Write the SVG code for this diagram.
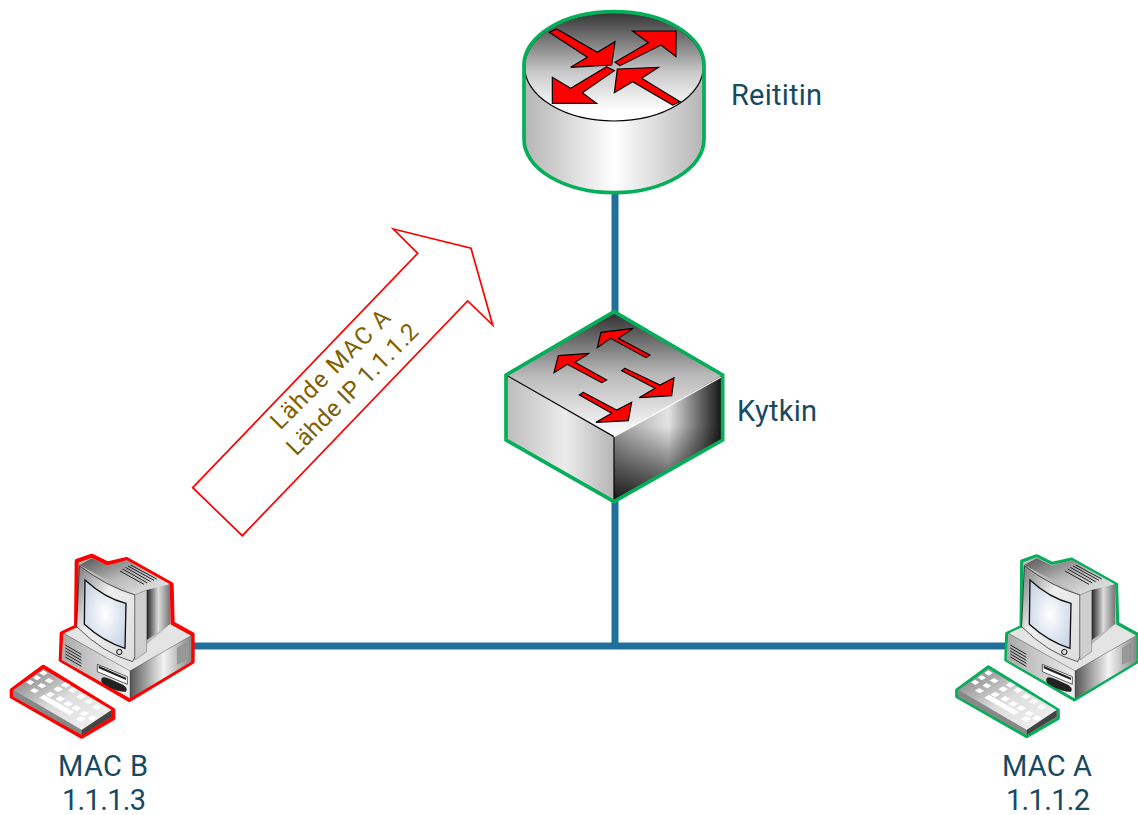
<svg xmlns="http://www.w3.org/2000/svg" width="1138" height="815" viewBox="0 0 1138 815">
<style>
.lbl{font-family:Roboto,"Liberation Sans",sans-serif;font-size:29px;font-weight:400;fill:#174a62}
.mid{text-anchor:middle}
.note{font-family:Roboto,"Liberation Sans",sans-serif;font-size:24px;font-weight:400;fill:#7f6000;text-anchor:middle}
.link{stroke:#21709c;stroke-width:7;fill:none}
.ra{fill:#f00;stroke:#000;stroke-width:3.500;stroke-linejoin:miter}
.key{fill:#fff}
.grn{fill:none;stroke:#05ae58;stroke-width:11}
</style>
<defs>
<linearGradient id="rt" x1="0" y1="0" x2="0" y2="1"><stop offset="0" stop-color="#333"/><stop offset=".55" stop-color="#c8c8c8"/><stop offset=".9" stop-color="#fff"/></linearGradient>
<linearGradient id="rs" x1="0" y1="0" x2="1" y2="0"><stop offset="0" stop-color="#b4b4b4"/><stop offset=".5" stop-color="#fff"/><stop offset="1" stop-color="#b4b4b4"/></linearGradient>
<linearGradient id="st" x1="0" y1="0" x2="0" y2="1"><stop offset="0" stop-color="#2e2e2e"/><stop offset=".5" stop-color="#b8b8b8"/><stop offset="1" stop-color="#fff"/></linearGradient>
<linearGradient id="sl" x1="0" y1="0" x2="1" y2="0"><stop offset="0" stop-color="#bbb"/><stop offset=".55" stop-color="#ececec"/><stop offset="1" stop-color="#b5b5b5"/></linearGradient>
<linearGradient id="sr" x1="0" y1="0" x2="1" y2="0"><stop offset="0" stop-color="#999"/><stop offset=".5" stop-color="#e4e4e4"/><stop offset=".75" stop-color="#777"/><stop offset="1" stop-color="#111"/></linearGradient>
<linearGradient id="srd" x1="0" y1="0" x2="0" y2="1"><stop offset=".4" stop-color="#000" stop-opacity="0"/><stop offset="1" stop-color="#000" stop-opacity=".85"/></linearGradient>
<linearGradient id="pm" x1="0" y1="0" x2="1" y2="1"><stop offset="0" stop-color="#777"/><stop offset=".4" stop-color="#eee"/><stop offset="1" stop-color="#ddd"/></linearGradient>
<linearGradient id="pt" x1="0" y1="0" x2="1" y2="1"><stop offset="0" stop-color="#555"/><stop offset=".5" stop-color="#bbb"/><stop offset="1" stop-color="#eee"/></linearGradient>
<linearGradient id="ps" x1="0" y1="0" x2="1" y2="0"><stop offset="0" stop-color="#222"/><stop offset=".5" stop-color="#ddd"/><stop offset="1" stop-color="#777"/></linearGradient>
<linearGradient id="pb" x1="0" y1="0" x2="1" y2="0"><stop offset="0" stop-color="#555"/><stop offset=".55" stop-color="#f4f4f4"/><stop offset="1" stop-color="#888"/></linearGradient>
<linearGradient id="pf" x1="0" y1="0" x2="1" y2="0"><stop offset="0" stop-color="#aaa"/><stop offset="1" stop-color="#eee"/></linearGradient>
<radialGradient id="scr" cx=".5" cy=".5" r=".6"><stop offset="0" stop-color="#fff"/><stop offset="1" stop-color="#c8d4e6"/></radialGradient>
<linearGradient id="kb" x1="0" y1="0" x2="1" y2="1"><stop offset="0" stop-color="#777"/><stop offset=".5" stop-color="#ddd"/><stop offset="1" stop-color="#f4f4f4"/></linearGradient>
<path id="body" d="M230 48L275 32L322 55L380 42L515 118L518 235L578 268L578 350L388 465L182 345L185 265L228 245Z"/>
<path id="keys" d="M35 435L130 365L340 495V520L245 575L35 455Z"/>
<g id="pc">
<path d="M238 60L275 40L322 62L380 45L510 118L440 135L405 150Z" fill="url(#pt)"/>
<path d="M440 135L510 118L510 238L440 285Z" fill="url(#ps)"/>
<path d="M192 265L228 248L438 300L510 238L572 272L390 378Z" fill="#e4e4e4"/>
<path d="M190 265L390 378L390 460L185 345Z" fill="url(#pf)"/>
<path d="M390 378L574 272L574 350L390 460Z" fill="url(#pb)"/>
<path d="M190 265L390 378L574 272" fill="none" stroke="#222" stroke-width="1"/>
<path d="M390 378V460" stroke="#222" stroke-width="1"/>
<path d="M238 62Q320 125 405 150L405 335L398 350Q310 325 230 245Z" fill="url(#pm)" stroke="#111" stroke-width="2"/>
<path d="M405 150L440 135V320L405 345Z" fill="#cfcfcf" stroke="#333" stroke-width="1"/>
<path d="M255 105Q315 160 378 175L375 310Q310 290 253 238Z" fill="url(#scr)" stroke="#111" stroke-width="4"/>
<circle cx="358" cy="321" r="8" fill="#ddd" stroke="#111" stroke-width="3"/>
<g stroke="#222" stroke-width="3"><path d="M360 78L432 118M368 72L442 114M376 67L452 110M384 63L462 106M392 60L470 102"/></g>
<g stroke="#222" stroke-width="3"><path d="M196 300L244 328M196 309L244 337M196 318L244 346M196 327L244 355M196 336L244 364"/></g>
<path d="M292 358L382 395V418L292 380Z" fill="#fff" stroke="#111" stroke-width="2"/>
<path d="M296 362L378 398V405L296 370Z" fill="#222"/>
<path d="M305 400Q310 392 330 402L370 420Q385 430 378 440Q360 442 330 428L312 418Q300 410 305 400Z" fill="#222"/>
<path d="M532 308L556 296V345L532 358Z" fill="#999" stroke="#777"/>
<path d="M40 435L130 372L335 495L245 555Z" fill="url(#kb)"/>
<path d="M40 435L245 555V570L40 455Z" fill="#888"/>
<path d="M245 555L335 495V515L245 570Z" fill="#444"/>
<g class="key">
<path d="M78 412l12-8 13 8-12 8z"/><path d="M98 398l12-8 13 8-12 8z"/><path d="M118 384l12-8 13 8-12 8z"/>
<path d="M90 437l12-8 15 8-12 8z"/><path d="M112 422l12-8 15 8-12 8z"/><path d="M134 407l12-8 15 8-12 8z"/>
<path d="M136 449l14-9 15 8-14 9z"/><path d="M160 433l14-9 15 8-14 9z"/><path d="M182 420l14-9 15 8-14 9z"/><path d="M204 436l14-9 15 8-14 9z"/>
<path d="M118 458l14-9 90 52-14 9z"/>
<path d="M166 462l14-9 15 8-14 9z"/><path d="M190 477l14-9 15 8-14 9z"/><path d="M228 455l14-9 15 8-14 9z"/><path d="M214 490l14-9 15 8-14 9z"/><path d="M252 470l14-9 15 8-14 9z"/><path d="M238 506l14-9 15 8-14 9z"/><path d="M276 487l14-9 15 8-14 9z"/><path d="M228 523l14-9 15 8-14 9z"/><path d="M262 520l14-9 15 8-14 9z"/>
</g>
</g>
</defs>
<g id="connectors">
<path class="link" d="M615 190V318M615 495V646M190 646H1008"/>
</g>
<g id="router" transform="translate(500 0) scale(.33333)">
<path d="M72 195A270 162 0 0 1 612 195V418A270 162 0 0 1 72 418Z" fill="url(#rs)"/>
<ellipse cx="342" cy="200" rx="268" ry="163" fill="url(#rt)" stroke="#000" stroke-width="3.500"/>
<path class="grn" d="M72 195A270 160 0 0 1 612 195V418A270 160 0 0 1 72 418Z"/>
<path class="ra" d="M148 97L170 87L292 157L345 125L335 195L212 202L262 172Z"/>
<path class="ra" d="M345 187L445 128L398 93H528V170L483 135L360 197Z"/>
<path class="ra" d="M320 200L343 212L247 278L290 310H157V232L212 265Z"/>
<path class="ra" d="M352 207L475 202L425 235L540 305L518 315L398 245L343 278Z"/>
</g>
<g id="switch" transform="translate(490 305) scale(.33333)">
<path d="M48 210L372 20L698 210L372 395Z" fill="url(#st)"/>
<path d="M48 210L372 395V590L48 405Z" fill="url(#sl)"/>
<path d="M372 395L698 210V405L372 590Z" fill="url(#sr)"/>
<path d="M372 395L698 210V405L372 590Z" fill="url(#srd)"/>
<path d="M52 212L372 395V585" fill="none" stroke="#000" stroke-width="3.500"/>
<path d="M372 395L695 215" fill="none" stroke="#fff" stroke-width="3.500"/>
<path class="grn" d="M372 20L698 210V405L372 590L48 405V210Z"/>
<path class="ra" d="M430 70L385 100L480 150L468 158L362 100L322 128L333 82Z"/>
<path class="ra" d="M298 145L255 172L350 225L335 233L232 178L192 203L205 152Z"/>
<path class="ra" d="M405 190L395 197L495 250L447 278L545 272L552 218L510 240Z"/>
<path class="ra" d="M280 262L268 270L365 325L318 352L415 347L425 292L380 315Z"/>
</g>
<g id="pc-b" transform="translate(0 545) scale(.33333)">
<use href="#body" fill="#bbb" stroke="#f00" stroke-width="12" stroke-linejoin="round"/>
<use href="#keys" fill="#999" stroke="#f00" stroke-width="12" stroke-linejoin="round"/>
<use href="#pc"/>
</g>
<g id="pc-a" transform="translate(945 545) scale(.33333)">
<use href="#body" fill="#bbb" stroke="#05ae58" stroke-width="9" stroke-linejoin="round"/>
<use href="#keys" fill="#999" stroke="#05ae58" stroke-width="9" stroke-linejoin="round"/>
<use href="#pc"/>
</g>
<g id="flow">
<path d="M192.700 487.700L417.700 253.300L393.300 229L471 248.300L492.700 325L467.700 301L242.300 535.700Z" fill="none" stroke="#f00" stroke-width="1.700"/>
<text class="note" transform="translate(336 375) rotate(-45)" textLength="158" lengthAdjust="spacing">Lähde MAC A</text>
<text class="note" transform="translate(358 395) rotate(-45)" textLength="175" lengthAdjust="spacing">Lähde IP 1.1.1.2</text>
</g>
<g id="labels">
<text class="lbl" x="731" y="105" textLength="91" lengthAdjust="spacing">Reititin</text>
<text class="lbl" x="737" y="421" textLength="80" lengthAdjust="spacing">Kytkin</text>
<text class="lbl mid" x="103" y="776" textLength="90" lengthAdjust="spacing">MAC B</text>
<text class="lbl mid" x="104" y="810" textLength="84" lengthAdjust="spacing">1.1.1.3</text>
<text class="lbl mid" x="1047" y="776" textLength="90" lengthAdjust="spacing">MAC A</text>
<text class="lbl mid" x="1048" y="810" textLength="84" lengthAdjust="spacing">1.1.1.2</text>
</g>
</svg>
